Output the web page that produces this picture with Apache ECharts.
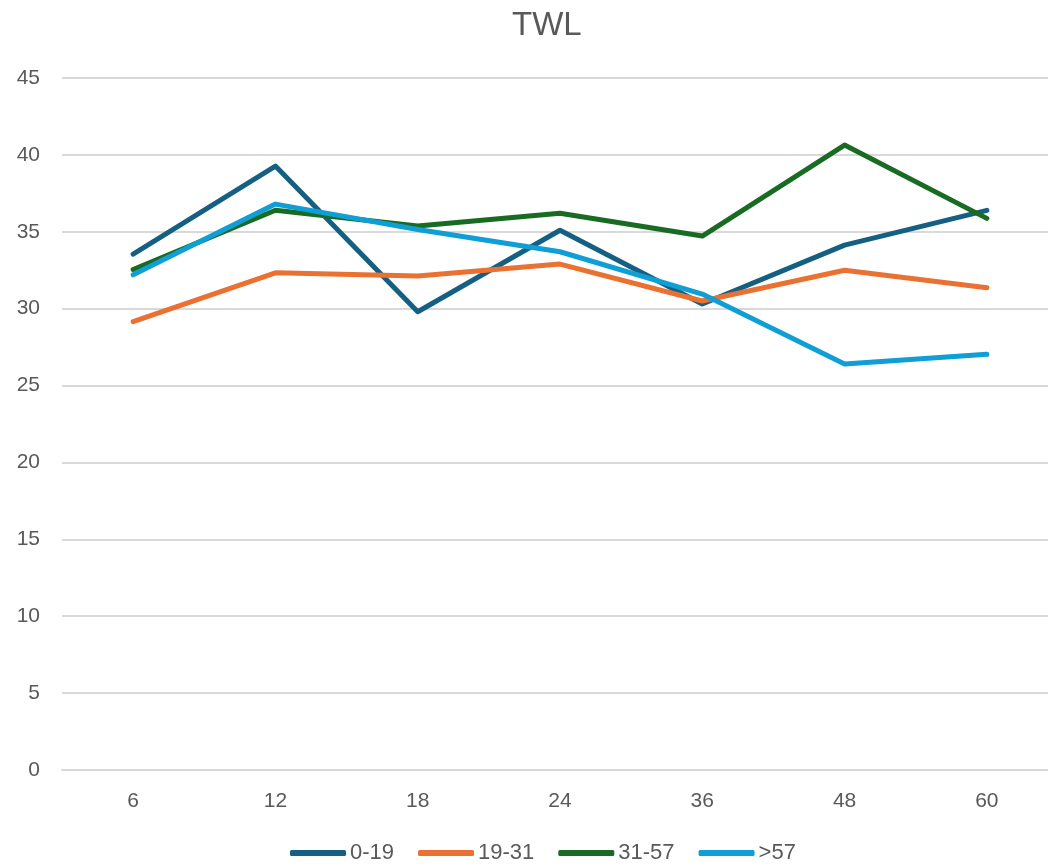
<!DOCTYPE html>
<html>
<head>
<meta charset="utf-8">
<script src="https://cdn.jsdelivr.net/npm/echarts@6/dist/echarts.min.js"></script>
<style>html,body{margin:0;padding:0;background:#fff}#c{width:1048px;height:866px}</style>
</head>
<body>
<div id="c"></div>
<script>
const categories = ['6', '12', '18', '24', '36', '48', '60'];
const seriesNames = ['0-19', '19-31', '31-57', '>57'];
const s0_19 = [33.55, 39.27, 29.8, 35.1, 30.3, 34.13, 36.39];
const s19_31 = [29.15, 32.33, 32.12, 32.9, 30.5, 32.5, 31.36];
const s31_57 = [32.55, 36.4, 35.37, 36.2, 34.72, 40.64, 35.87];
const s57 = [32.2, 36.8, 35.15, 33.7, 30.95, 26.4, 27.03];
const colors = ['#156082', '#E97132', '#196B24', '#0F9ED5'];
const values = [s0_19, s19_31, s31_57, s57];

const font = "'Liberation Sans', Arial, sans-serif";
const chart = echarts.init(document.getElementById('c'));
chart.setOption({
  animation: false,
  title: {
    text: 'TWL', left: 507, top: 4,
    textStyle: { fontFamily: font, fontSize: 33, fontWeight: 'normal', color: '#595959' }
  },
  legend: {
    bottom: -3, left: 285,
    icon: 'roundRect', itemWidth: 56, itemHeight: 6, itemGap: 24,
    textStyle: { fontFamily: font, fontSize: 22, color: '#595959', padding: [0, 0, 0, -1] },
    data: seriesNames
  },
  grid: { left: 62, right: -10, top: 78, bottom: 96, containLabel: false, outerBoundsMode: 'none' },
  xAxis: {
    type: 'category', data: categories,
    axisLine: { show: true, lineStyle: { color: '#d9d9d9', width: 2 } },
    axisTick: { show: false },
    axisLabel: { fontFamily: font, fontSize: 21, color: '#595959', margin: 21 }
  },
  yAxis: {
    type: 'value', min: 0, max: 45, interval: 5,
    axisLine: { show: false }, axisTick: { show: false },
    axisLabel: { fontFamily: font, fontSize: 21, color: '#595959', margin: 22 },
    splitLine: { lineStyle: { color: '#d9d9d9', width: 2 } }
  },
  series: seriesNames.map((n, i) => ({
    name: n, type: 'line', data: values[i], showSymbol: false, symbol: 'none',
    itemStyle: { color: colors[i] },
    lineStyle: { color: colors[i], width: 5, cap: 'round', join: 'round' }
  }))
});
</script>
</body>
</html>
